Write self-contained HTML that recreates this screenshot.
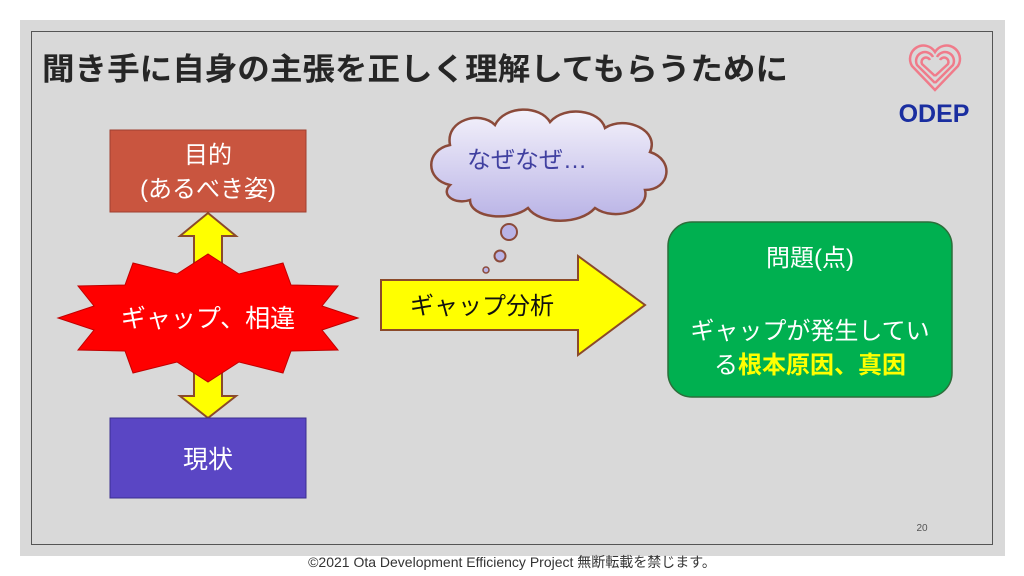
<!DOCTYPE html>
<html><head><meta charset="utf-8"><style>
html,body{margin:0;padding:0;background:#fff;width:1024px;height:576px;overflow:hidden}
svg{display:block}
text{font-family:"Liberation Sans","Noto Sans CJK JP",sans-serif}
</style></head><body>
<svg width="1024" height="576" viewBox="0 0 1024 576" xmlns="http://www.w3.org/2000/svg">
<defs>
<linearGradient id="cg" x1="0" y1="0" x2="0" y2="1"><stop offset="0" stop-color="#f4f2fb"/><stop offset="1" stop-color="#b9b3e6"/></linearGradient>
</defs>
<rect x="20" y="20" width="985" height="536" fill="#d9d9d9"/>
<rect x="31.5" y="31.5" width="961" height="513" fill="none" stroke="#555" stroke-width="1"/>
<text x="42" y="80" font-size="31" font-weight="bold" fill="#262626" textLength="746" lengthAdjust="spacingAndGlyphs">聞き手に自身の主張を正しく理解してもらうために</text>
<!-- logo -->
<g fill="none" stroke="#f07b8a" stroke-width="2.5">
<path d="M935 90 L912 66 A11 11 0 0 1 935 52 A11 11 0 0 1 958 66 Z"/>
<path d="M935 83 L917 65 A7 7 0 0 1 933 57"/>
<path d="M935 76 L922 64 A4 4 0 0 1 930 60"/>
<path d="M935 83 L953 65 A7 7 0 0 0 937 57"/>
<path d="M935 76 L948 64 A4 4 0 0 0 940 60"/>
</g>
<text x="934" y="122" font-size="25" font-weight="bold" fill="#1a2ea0" text-anchor="middle">ODEP</text>
<!-- 目的 -->
<rect x="110" y="130" width="196" height="82" fill="#c9553f" stroke="#a04030"/>
<text x="208" y="163" font-size="24" fill="#fff" text-anchor="middle">目的</text>
<text x="208" y="197" font-size="24" fill="#fff" text-anchor="middle">(あるべき姿)</text>
<!-- double arrow -->
<polygon points="208,213 236,236 222,236 222,396 236,396 208,418 180,396 194,396 194,236 180,236" fill="#ffff00" stroke="#8b4a2a" stroke-width="2"/>
<!-- star -->
<polygon points="358,318 322,330 338,350 291,351 283,373 239,362 208,382 177,362 133,373 125,351 78,350 94,330 58,318 94,306 78,286 125,285 133,263 177,274 208,254 239,274 283,263 291,285 338,286 322,306" fill="#ff0000" stroke="#c00000" stroke-width="1"/>
<text x="208" y="327" font-size="25" fill="#fff" text-anchor="middle">ギャップ、相違</text>
<!-- 現状 -->
<rect x="110" y="418" width="196" height="80" fill="#5a46c4" stroke="#3b2e90"/>
<text x="208" y="468" font-size="25" fill="#fff" text-anchor="middle">現状</text>
<!-- cloud -->
<path d="M450 185 C425 180 425 150 450 145 C445 120 480 110 495 125 C505 105 540 105 550 122 C565 105 600 110 605 128 C625 115 660 130 650 152 C675 160 670 190 645 190 C650 210 615 222 595 208 C580 225 540 225 528 208 C510 222 470 218 470 200 C455 205 440 195 450 185 Z" fill="url(#cg)" stroke="#8b4a3a" stroke-width="2.5"/>
<text x="527" y="168" font-size="24" fill="#4040a0" text-anchor="middle">なぜなぜ…</text>
<circle cx="509" cy="232" r="8" fill="#b9b3e6" stroke="#8b4a3a" stroke-width="2"/>
<circle cx="500" cy="256" r="5.5" fill="#b9b3e6" stroke="#8b4a3a" stroke-width="2"/>
<circle cx="486" cy="270" r="3" fill="#b9b3e6" stroke="#8b4a3a" stroke-width="1.5"/>
<!-- big arrow -->
<polygon points="381,280 578,280 578,256 645,305 578,355 578,330 381,330" fill="#ffff00" stroke="#8b4a2a" stroke-width="2"/>
<text x="482" y="314" font-size="24" fill="#111" text-anchor="middle">ギャップ分析</text>
<!-- green -->
<rect x="668" y="222" width="284" height="175" rx="24" fill="#00b050" stroke="#2c6e3a" stroke-width="1.5"/>
<text x="810" y="266" font-size="24" fill="#fff" text-anchor="middle">問題(点)</text>
<text x="810" y="339" font-size="24" fill="#fff" text-anchor="middle">ギャップが発生してい</text>
<text x="810" y="373" font-size="24" text-anchor="middle"><tspan fill="#fff">る</tspan><tspan fill="#ffff00" font-weight="bold">根本原因、真因</tspan></text>
<text x="922" y="531" font-size="10" fill="#555" text-anchor="middle">20</text>
<text x="512" y="567" font-size="14" fill="#333" text-anchor="middle">©2021  Ota Development Efficiency Project 無断転載を禁じます。</text>
</svg>
</body></html>
